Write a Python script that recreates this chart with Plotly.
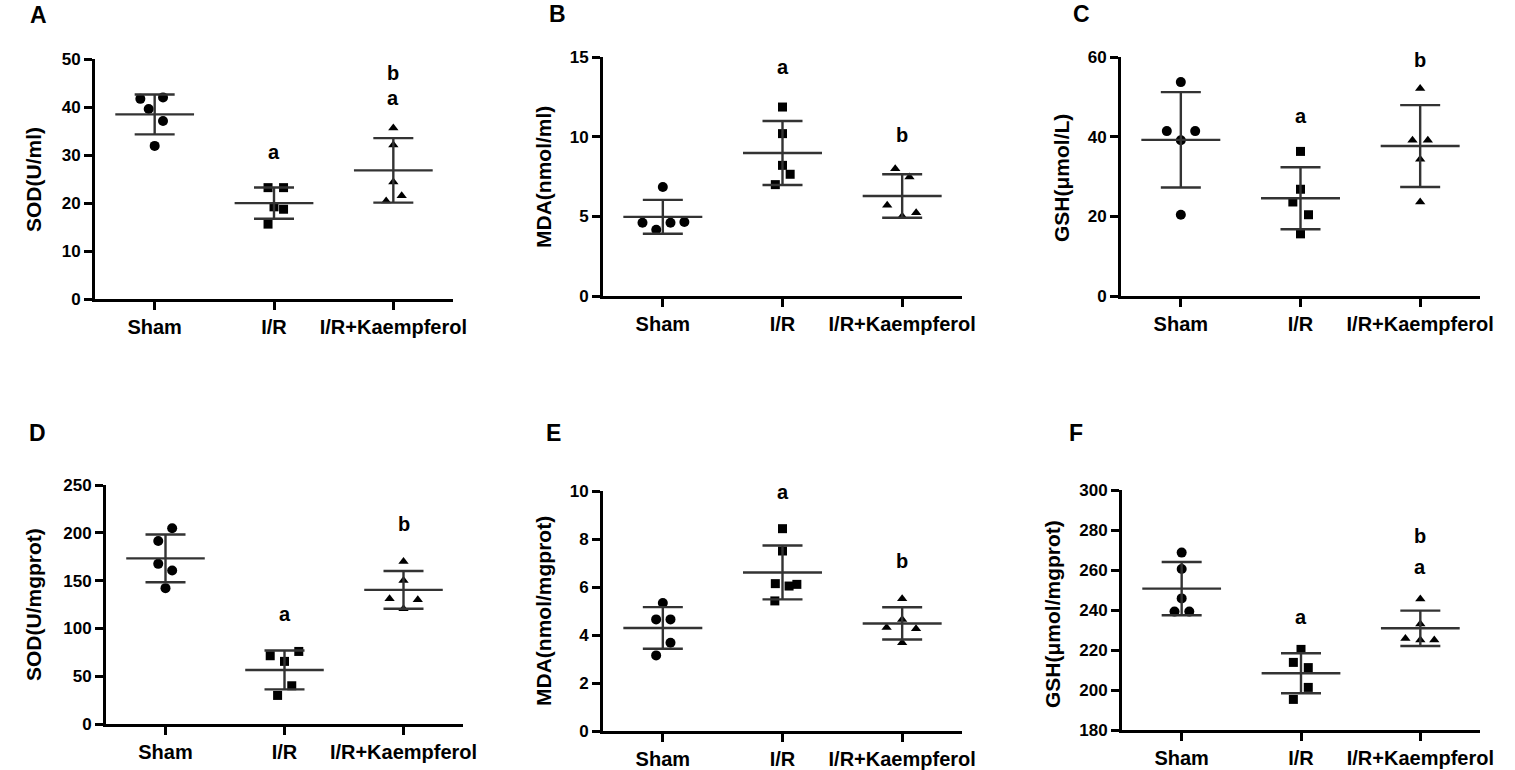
import numpy as np
import plotly.graph_objects as go

W, H = 1515, 770

groups = ["Sham", "I/R", "I/R+Kaempferol"]

# values, 5 (or 6) animals per group
sod_serum = {"Sham": [41.7, 42.0, 39.6, 37.1, 31.9],
             "I/R": [23.2, 23.2, 19.2, 18.7, 15.6],
             "I/R+Kaempferol": [35.6, 32.1, 24.4, 21.5, 20.4]}
mda_serum = {"Sham": [6.84, 4.60, 4.16, 4.60, 4.64],
             "I/R": [11.86, 10.19, 8.20, 7.64, 6.99],
             "I/R+Kaempferol": [7.99, 7.47, 5.69, 5.23, 5.00]}
gsh_serum = {"Sham": [53.7, 41.4, 41.4, 39.1, 20.4],
             "I/R": [36.3, 26.8, 23.6, 20.4, 15.6],
             "I/R+Kaempferol": [52.1, 39.1, 39.1, 34.3, 23.6]}
sod_tissue = {"Sham": [204.7, 191.5, 167.5, 160.5, 142.1],
              "I/R": [71.4, 75.9, 65.5, 40.0, 29.9],
              "I/R+Kaempferol": [169.9, 150.1, 130.9, 129.9, 120.5]}
mda_tissue = {"Sham": [5.33, 4.65, 4.65, 3.68, 3.15],
              "I/R": [8.43, 7.50, 6.14, 6.04, 6.11, 5.42],
              "I/R+Kaempferol": [5.51, 4.65, 4.31, 4.26, 3.68]}
gsh_tissue = {"Sham": [268.7, 260.5, 245.8, 239.2, 239.2],
              "I/R": [220.3, 213.8, 211.2, 201.3, 195.3],
              "I/R+Kaempferol": [245.5, 233.0, 225.8, 225.0, 225.0]}

# horizontal scatter of overlapping points (category units)
jit_a = {"Sham": [-0.12, 0.07, -0.05, 0.07, 0], "I/R": [-0.05, 0.08, 0, 0.08, -0.05],
         "I/R+Kaempferol": [0, 0, 0, 0.07, -0.06]}
jit_b = {"Sham": [0, -0.17, -0.055, 0.064, 0.18], "I/R": [0, 0, 0, 0.064, -0.06],
         "I/R+Kaempferol": [-0.058, 0.061, -0.125, 0.117, 0]}
jit_c = {"Sham": [0, -0.117, 0.12, 0, 0], "I/R": [0, 0, -0.064, 0.067, 0],
         "I/R+Kaempferol": [0, -0.064, 0.064, 0, 0]}
jit_d = {"Sham": [0.056, -0.061, -0.061, 0.056, 0], "I/R": [-0.12, 0.12, 0, 0.061, -0.058],
         "I/R+Kaempferol": [0, 0, -0.117, 0.12, 0]}
jit_e = {"Sham": [0, -0.056, 0.064, 0.064, -0.056], "I/R": [0, 0, -0.06, 0.055, 0.12, -0.064],
         "I/R+Kaempferol": [0, 0, -0.13, 0.116, 0]}
jit_f = {"Sham": [0, 0, 0, -0.06, 0.064], "I/R": [0, -0.064, 0.061, 0.061, -0.064],
         "I/R+Kaempferol": [0, 0, -0.125, 0, 0.117]}

# significance letters: (group, letter, height)
sig_a = [("I/R", "a", 30.7), ("I/R+Kaempferol", "a", 41.9), ("I/R+Kaempferol", "b", 47.0)]
sig_b = [("I/R", "a", 14.4), ("I/R+Kaempferol", "b", 10.1)]
sig_c = [("I/R", "a", 45.2), ("I/R+Kaempferol", "b", 59.2)]
sig_d = [("I/R", "a", 115.3), ("I/R+Kaempferol", "b", 208.9)]
sig_e = [("I/R", "a", 9.96), ("I/R+Kaempferol", "b", 7.08)]
sig_f = [("I/R", "a", 236.7), ("I/R+Kaempferol", "a", 261.7), ("I/R+Kaempferol", "b", 277.0)]

panels = [
    # letter, y title, data, jitter, letters, y range, dtick, box px (x0, x1, ytop, ybot), title pos px
    ("A", "SOD(U/ml)", sod_serum, jit_a, sig_a, [0, 50], 10, (95, 453, 59, 299), (34, 180), (38, 15)),
    ("B", "MDA(nmol/ml)", mda_serum, jit_b, sig_b, [0, 15], 5, (603, 962, 57, 296), (543, 177), (557, 14)),
    ("C", "GSH(μmol/L)", gsh_serum, jit_c, sig_c, [0, 60], 20, (1121, 1480, 57, 296), (1062, 178), (1081, 14)),
    ("D", "SOD(U/mgprot)", sod_tissue, jit_d, sig_d, [0, 250], 50, (106, 463, 485, 724), (33, 605), (37, 433)),
    ("E", "MDA(nmol/mgprot)", mda_tissue, jit_e, sig_e, [0, 10], 2, (603, 962, 491, 731), (543, 611), (553, 433)),
    ("F", "GSH(μmol/mgprot)", gsh_tissue, jit_f, sig_f, [180, 300], 20, (1122, 1480, 490, 730), (1052, 614), (1076, 433)),
]

symbols = {"Sham": "circle", "I/R": "square", "I/R+Kaempferol": "triangle-up"}
msize = {"Sham": 10, "I/R": 9, "I/R+Kaempferol": 9}
FONT = "Liberation Sans, Arial, sans-serif"
LINE = "#333333"

fig = go.Figure()
annotations = []

for i, (letter, ytitle, data, jit, sig, yr, dt, box, tpos, lpos) in enumerate(panels, 1):
    xa = "x" if i == 1 else f"x{i}"
    ya = "y" if i == 1 else f"y{i}"
    x0, x1, yt, yb = box
    for k, g in enumerate(groups, 1):
        vals = np.array(data[g])
        m, sd = vals.mean(), vals.std(ddof=1)
        fig.add_trace(go.Scatter(
            x=[k + j for j in jit[g]], y=vals, mode="markers", xaxis=xa, yaxis=ya,
            marker=dict(symbol=symbols[g], size=msize[g], color="black"),
            showlegend=False, hoverinfo="y"))
        # SD bar with caps
        fig.add_trace(go.Scatter(
            x=[k], y=[m], mode="markers", xaxis=xa, yaxis=ya,
            marker=dict(size=1, color="rgba(0,0,0,0)"),
            error_y=dict(type="data", array=[sd], symmetric=True, color=LINE,
                         thickness=2.4, width=20),
            showlegend=False, hoverinfo="skip"))
        # mean line
        fig.add_trace(go.Scatter(
            x=[k - 0.33, k + 0.33], y=[m, m], mode="lines", xaxis=xa, yaxis=ya,
            line=dict(color=LINE, width=2.4), showlegend=False, hoverinfo="skip"))

    for g, txt, yv in sig:
        annotations.append(dict(x=groups.index(g) + 1, y=yv, xref=xa, yref=ya, text=txt,
                                xanchor="center", yanchor="middle", showarrow=False,
                                font=dict(family=FONT, size=20, color="black", weight="bold")))

    annotations.append(dict(x=tpos[0] / W, y=1 - tpos[1] / H, xref="paper", yref="paper",
                            text=ytitle, textangle=-90, showarrow=False,
                            xanchor="center", yanchor="middle",
                            font=dict(family=FONT, size=21, color="black", weight="bold")))
    annotations.append(dict(x=lpos[0] / W, y=1 - lpos[1] / H, xref="paper", yref="paper",
                            text=letter, showarrow=False, xanchor="center", yanchor="middle",
                            font=dict(family=FONT, size=23, color="black", weight="bold")))

    axis_common = dict(showgrid=False, zeroline=False, showline=True, linecolor="black",
                       linewidth=3, ticks="outside", tickwidth=3, ticklen=8, tickcolor="black",
                       automargin=False)
    fig.layout[xa.replace("x", "xaxis")] = dict(
        axis_common, domain=[x0 / W, x1 / W], anchor=ya, range=[0.5, 3.5],
        tickvals=[1, 2, 3], ticktext=groups,
        tickfont=dict(family=FONT, size=20, color="black", weight="bold"))
    fig.layout[ya.replace("y", "yaxis")] = dict(
        axis_common, domain=[1 - yb / H, 1 - yt / H], anchor=xa, range=yr, dtick=dt,
        tick0=yr[0], tickfont=dict(family=FONT, size=17, color="black", weight="bold"))

fig.update_layout(width=W, height=H, margin=dict(l=0, r=0, t=0, b=0),
                  plot_bgcolor="white", paper_bgcolor="white", annotations=annotations)

# drop the page's default body margin so the figure sits at the window corner
fig.write_html("out.html", config={"displayModeBar": False},
               post_script="document.body.style.margin='0px';")
